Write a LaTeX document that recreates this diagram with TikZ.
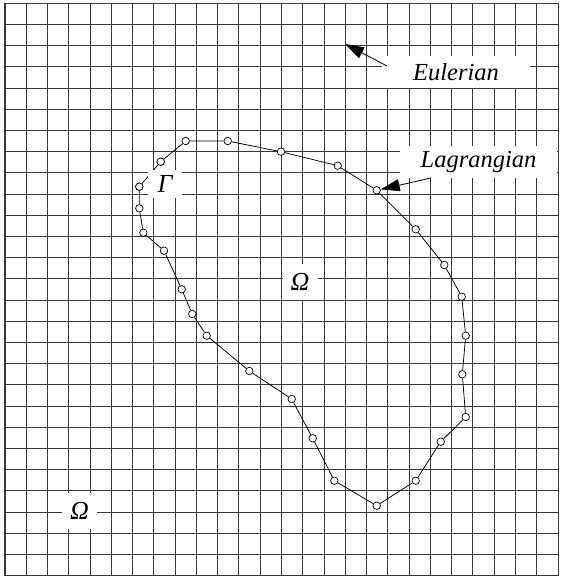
\documentclass[tikz,border=0pt]{standalone}
\usepackage{fontspec}
\setmainfont{Liberation Serif}
\usetikzlibrary{arrows.meta}
\tikzset{
  gridline/.style={draw=black!78, line width=1.05bp},
  marker/.style={circle, draw=black, fill=white, line width=0.7bp, inner sep=0pt, minimum size=7.5bp},
  edge/.style={draw=black, line width=0.75bp},
  labelbox/.style={fill=white, inner sep=0pt, font=\fontsize{24.5bp}{28bp}\selectfont\itshape},
  greekbox/.style={fill=white, inner sep=0pt, minimum width=35bp, minimum height=36bp, font=\fontsize{26bp}{30bp}\selectfont\itshape},
  pointer/.style={draw=black, line width=0.8bp, -{Triangle[length=19bp,width=12bp]}}
}
\begin{document}
\begin{tikzpicture}[x=1bp, y=-1bp]
\useasboundingbox (0,0) rectangle (569,579);
% grid
\foreach \i in {0,...,26} \draw[gridline] ({5+21.27*\i},3.3) -- ({5+21.27*\i},575.7);
\foreach \j in {0,...,27} \draw[gridline] (5,{3.3+21.2*\j}) -- (558,{3.3+21.2*\j});
% Lagrangian markers
\foreach \n/\x/\y in {1/185.7/141, 2/227.7/141, 3/281/151.7, 4/337.7/165.7, 5/376.7/190.3,
  6/415.7/229.3, 7/444.3/265, 8/461.7/296.7, 9/465.7/335.7, 10/462.3/374.3, 11/465.7/417,
  12/440.7/441.7, 13/415.7/480.7, 14/376.7/505.7, 15/334.3/480.7, 16/312.7/438.3,
  17/291.7/399, 18/249.3/371, 19/206.7/335.7, 20/192.3/314, 21/181.7/289.3, 22/164/250.7,
  23/143.3/232.7, 24/139.3/208.3, 25/139.3/186.7, 26/160.7/161.7}
  \node[marker] (p\n) at (\x,\y) {};
% boundary edges
\draw[edge] (p1) -- (p2) -- (p3) -- (p4) -- (p5) -- (p6) -- (p7) -- (p8) -- (p9) -- (p10)
  -- (p11) -- (p12) -- (p13) -- (p14) -- (p15) -- (p16) -- (p17) -- (p18) -- (p19) -- (p20)
  -- (p21) -- (p22) -- (p23) -- (p24) -- (p25) -- (p26) -- (p1);
% labels
\node[labelbox, minimum width=148bp, minimum height=32bp] (eul) at (456,72) {Eulerian};
\node[labelbox, minimum width=157bp, minimum height=32bp] (lag) at (478.5,162) {Lagrangian};
\node[greekbox, minimum width=34bp, minimum height=28bp] (gam) at (165,184) {Γ};
\node[greekbox] (om1) at (300,282) {Ω};
\node[greekbox] (om2) at (79.5,510.5) {Ω};
% redraw markers on top
\foreach \n/\x/\y in {25/139.3/186.7, 26/160.7/161.7}
  \node[marker] at (\x,\y) {};
% pointers
\coordinate (eulstart) at (387,66);
\coordinate (eultip) at (345,44);
\coordinate (lagstart) at (431,178);
\draw[pointer] (eulstart) -- (eultip);
\draw[pointer] (lagstart) -- (p5);
\end{tikzpicture}
\end{document}
